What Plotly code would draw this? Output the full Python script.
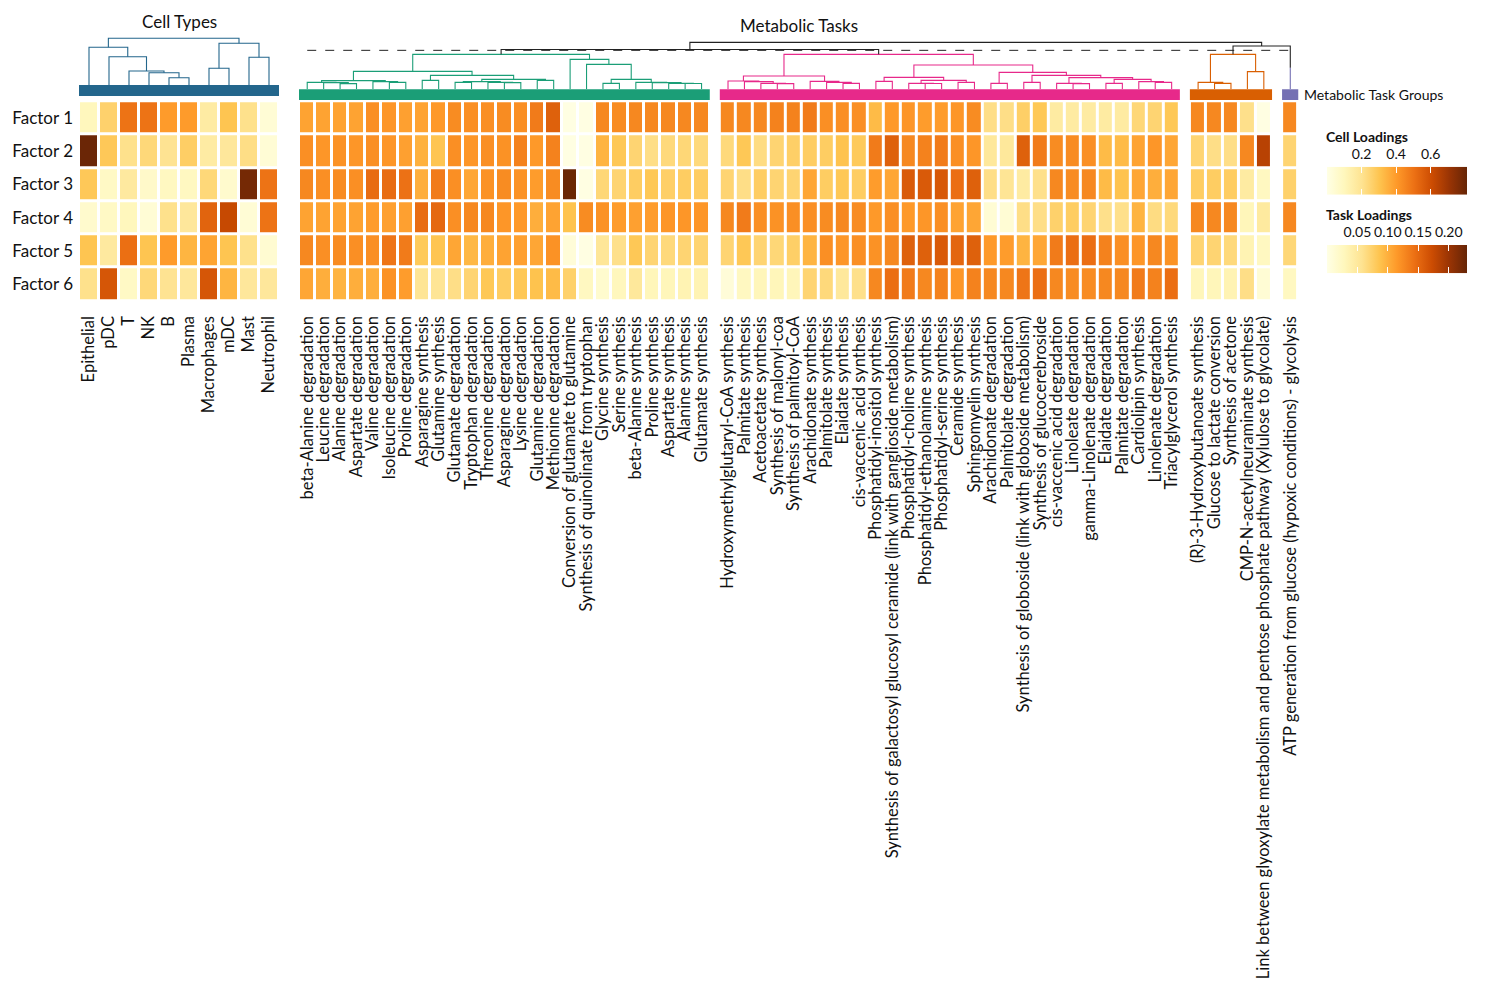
import numpy as np
import plotly.graph_objects as go
from plotly.colors import sequential

FONT = "Lato"
W, H = 1502, 990

# ---------------- data ----------------
factors = ["Factor 1", "Factor 2", "Factor 3", "Factor 4", "Factor 5", "Factor 6"]

cell_types = ["Epithelial", "pDC", "T", "NK", "B", "Plasma", "Macrophages", "mDC", "Mast", "Neutrophil"]
cell_loadings = [
    [0.10, 0.26, 0.50, 0.50, 0.40, 0.40, 0.16, 0.30, 0.21, 0.04],
    [0.80, 0.29, 0.21, 0.24, 0.20, 0.27, 0.16, 0.18, 0.22, 0.04],
    [0.29, 0.08, 0.17, 0.07, 0.09, 0.09, 0.24, 0.06, 0.78, 0.50],
    [0.06, 0.08, 0.10, 0.04, 0.21, 0.18, 0.54, 0.62, 0.04, 0.50],
    [0.30, 0.17, 0.51, 0.30, 0.40, 0.34, 0.38, 0.30, 0.21, 0.05],
    [0.21, 0.58, 0.08, 0.24, 0.20, 0.18, 0.58, 0.34, 0.18, 0.18],
]

tasks_green = [
    "beta-Alanine degradation", "Leucine degradation", "Alanine degradation", "Aspartate degradation",
    "Valine degradation", "Isoleucine degradation", "Proline degradation", "Asparagine synthesis",
    "Glutamine synthesis", "Glutamate degradation", "Tryptophan degradation", "Threonine degradation",
    "Asparagine degradation", "Lysine degradation", "Glutamine degradation", "Methionine degradation",
    "Conversion of glutamate to glutamine", "Synthesis of quinolinate from tryptophan", "Glycine synthesis",
    "Serine synthesis", "beta-Alanine synthesis", "Proline synthesis", "Aspartate synthesis",
    "Alanine synthesis", "Glutamate synthesis",
]
loadings_green = [
    [0.108, 0.108, 0.108, 0.108, 0.122, 0.117, 0.110, 0.108, 0.115, 0.124, 0.122, 0.122, 0.124, 0.122, 0.136, 0.156, 0.002, 0.002, 0.127, 0.124, 0.127, 0.127, 0.127, 0.127, 0.127],
    [0.122, 0.117, 0.120, 0.117, 0.122, 0.117, 0.110, 0.099, 0.085, 0.122, 0.117, 0.122, 0.120, 0.131, 0.115, 0.131, 0.002, 0.002, 0.097, 0.083, 0.071, 0.062, 0.067, 0.069, 0.067],
    [0.127, 0.122, 0.124, 0.122, 0.147, 0.147, 0.143, 0.101, 0.136, 0.122, 0.106, 0.120, 0.124, 0.120, 0.113, 0.124, 0.228, 0.002, 0.069, 0.071, 0.078, 0.083, 0.076, 0.078, 0.078],
    [0.108, 0.108, 0.108, 0.108, 0.113, 0.110, 0.110, 0.147, 0.150, 0.122, 0.127, 0.127, 0.117, 0.115, 0.101, 0.108, 0.087, 0.124, 0.120, 0.113, 0.110, 0.113, 0.117, 0.117, 0.117],
    [0.127, 0.122, 0.124, 0.122, 0.122, 0.140, 0.136, 0.081, 0.085, 0.106, 0.094, 0.101, 0.108, 0.110, 0.106, 0.120, 0.009, 0.002, 0.053, 0.060, 0.083, 0.071, 0.067, 0.071, 0.071],
    [0.106, 0.101, 0.097, 0.101, 0.101, 0.120, 0.113, 0.055, 0.055, 0.062, 0.071, 0.083, 0.078, 0.083, 0.087, 0.092, 0.074, 0.025, 0.016, 0.028, 0.051, 0.030, 0.030, 0.035, 0.035],
]

tasks_pink = [
    "Hydroxymethylglutaryl-CoA synthesis", "Palmitate synthesis", "Acetoacetate synthesis",
    "Synthesis of malonyl-coa", "Synthesis of palmitoyl-CoA", "Arachidonate synthesis",
    "Palmitolate synthesis", "Elaidate synthesis", "cis-vaccenic acid synthesis",
    "Phosphatidyl-inositol synthesis",
    "Synthesis of galactosyl glucosyl ceramide (link with ganglioside metabolism)",
    "Phosphatidyl-choline synthesis", "Phosphatidyl-ethanolamine synthesis", "Phosphatidyl-serine synthesis",
    "Ceramide synthesis", "Sphingomyelin synthesis", "Arachidonate degradation", "Palmitolate degradation",
    "Synthesis of globoside (link with globoside metabolism)", "Synthesis of glucocerebroside",
    "cis-vaccenic acid degradation", "Linoleate degradation", "gamma-Linolenate degradation",
    "Elaidate degradation", "Palmitate degradation", "Cardiolipin synthesis", "Linolenate degradation",
    "Triacylglycerol synthesis",
]
loadings_pink = [
    [0.127, 0.127, 0.127, 0.131, 0.131, 0.136, 0.122, 0.122, 0.122, 0.092, 0.115, 0.117, 0.113, 0.113, 0.117, 0.124, 0.062, 0.062, 0.076, 0.083, 0.046, 0.046, 0.046, 0.046, 0.046, 0.069, 0.071, 0.083],
    [0.067, 0.083, 0.064, 0.071, 0.076, 0.078, 0.078, 0.087, 0.081, 0.136, 0.156, 0.127, 0.131, 0.136, 0.122, 0.117, 0.051, 0.051, 0.156, 0.136, 0.124, 0.124, 0.122, 0.092, 0.092, 0.108, 0.117, 0.106],
    [0.071, 0.062, 0.078, 0.071, 0.071, 0.106, 0.078, 0.083, 0.078, 0.113, 0.106, 0.161, 0.161, 0.163, 0.145, 0.156, 0.062, 0.055, 0.046, 0.060, 0.127, 0.124, 0.127, 0.092, 0.087, 0.106, 0.101, 0.106],
    [0.127, 0.136, 0.122, 0.120, 0.122, 0.122, 0.124, 0.127, 0.124, 0.115, 0.122, 0.115, 0.117, 0.122, 0.108, 0.106, 0.012, 0.012, 0.062, 0.062, 0.074, 0.078, 0.071, 0.060, 0.060, 0.097, 0.064, 0.067],
    [0.071, 0.083, 0.071, 0.069, 0.076, 0.097, 0.122, 0.117, 0.122, 0.120, 0.127, 0.156, 0.156, 0.161, 0.152, 0.156, 0.115, 0.113, 0.097, 0.106, 0.136, 0.145, 0.145, 0.131, 0.122, 0.117, 0.127, 0.120],
    [0.009, 0.025, 0.030, 0.030, 0.030, 0.071, 0.067, 0.051, 0.060, 0.127, 0.145, 0.136, 0.127, 0.131, 0.117, 0.131, 0.127, 0.127, 0.140, 0.145, 0.127, 0.124, 0.124, 0.127, 0.127, 0.136, 0.131, 0.145],
]

tasks_orange = [
    "(R)-3-Hydroxybutanoate synthesis", "Glucose to lactate conversion", "Synthesis of acetone",
    "CMP-N-acetylneuraminate synthesis",
    "Link between glyoxylate metabolism and pentose phosphate pathway (Xylulose to glycolate)",
]
loadings_orange = [
    [0.127, 0.127, 0.127, 0.060, 0.002],
    [0.071, 0.062, 0.062, 0.127, 0.184],
    [0.078, 0.078, 0.078, 0.046, 0.025],
    [0.127, 0.127, 0.127, 0.030, 0.048],
    [0.071, 0.071, 0.067, 0.035, 0.025],
    [0.030, 0.030, 0.035, 0.062, 0.012],
]

tasks_purple = ["ATP generation from glucose (hypoxic conditions) - glycolysis"]
loadings_purple = [[0.127], [0.071], [0.074], [0.127], [0.069], [0.025]]

cell_color = "#23668C"
group_colors = ["#1B9E77", "#E7298A", "#D95F02", "#7570B3"]

# dendrogram merges (scipy-style ids: leaves 0..n-1, merge k -> id n+k), heights
cell_merges = [(4, 5, 7.3), (3, 10, 12.3), (2, 11, 14.0), (1, 12, 28.3), (0, 13, 37.7),
               (6, 7, 16.7), (8, 9, 27.7), (15, 16, 41.7), (14, 17, 46.7)]
green_merges = [(2, 3, 5.7), (1, 25, 6.7), (0, 26, 7.0), (5, 6, 7.0), (4, 28, 7.7), (27, 29, 8.7),
                (7, 8, 9.0), (9, 10, 7.0), (12, 13, 6.7), (11, 33, 7.0), (32, 34, 7.7), (14, 15, 9.0),
                (35, 36, 10.0), (31, 37, 14.0), (30, 38, 18.0), (18, 19, 6.0), (23, 24, 5.8),
                (22, 41, 6.0), (21, 42, 6.7), (20, 43, 7.0), (40, 44, 10.0), (17, 45, 25.0),
                (16, 46, 30.0), (39, 47, 35.0)]
pink_merges = [(3, 4, 5.7), (2, 28, 6.0), (1, 29, 7.7), (0, 30, 8.3), (7, 8, 6.0), (6, 32, 7.0),
               (5, 33, 8.0), (31, 34, 13.3), (9, 10, 8.0), (12, 13, 5.8), (11, 37, 6.0), (14, 15, 7.0),
               (38, 39, 9.0), (36, 40, 12.0), (16, 17, 6.0), (18, 19, 7.0), (21, 22, 5.7), (20, 44, 6.0),
               (23, 24, 6.0), (26, 27, 7.0), (25, 47, 7.7), (46, 48, 10.0), (45, 49, 11.7),
               (43, 50, 14.0), (42, 51, 17.0), (41, 52, 24.3), (35, 53, 35.0)]
orange_merges = [(1, 2, 6.0), (0, 5, 7.0), (3, 4, 17.7), (6, 7, 35.0)]
purple_leaf_height = 21.6
# slice-level tree: (green,pink) then (orange,purple) then all
slice_merge_heights = [39.8, 43.3, 47.0]
slice_cut_height = 39.0

# ---------------- helpers ----------------
def px_x(p):
    return p / W


def px_y(p):
    return 1 - p / H


def dendro_paths(leaf_x, merges):
    n = len(leaf_x)
    pos = {i: (leaf_x[i], 0.0) for i in range(n)}
    xs, ys = [], []
    for k, (a, b, h) in enumerate(merges):
        xa, ha = pos[a]
        xb, hb = pos[b]
        xs += [xa, xa, xb, xb, None]
        ys += [ha, h, h, hb, None]
        pos[n + k] = ((xa + xb) / 2, h)
    return xs, ys, pos[n + len(merges) - 1]


# layout geometry in px
CELL_X = (79, 279)
TASK_X = (299, 1298.5)
HEAT_Y = (101.2, 300.8)
CELL_BAR = (85, 96)
TASK_BAR = (89.33, 100)
GAP = 0.61  # gap between task groups, in column units

groups = [(tasks_green, loadings_green), (tasks_pink, loadings_pink),
          (tasks_orange, loadings_orange), (tasks_purple, loadings_purple)]
offsets = []
o = 0.0
for names, _ in groups:
    offsets.append(o)
    o += len(names) + GAP
task_range = [-0.5, offsets[-1] + len(tasks_purple) - 0.5]

fig = go.Figure()

# ---- heatmaps ----
fig.add_trace(go.Heatmap(z=cell_loadings, x=list(range(len(cell_types))), y=list(range(len(factors))),
                         coloraxis="coloraxis", xgap=3, ygap=3, xaxis="x", yaxis="y"))

task_ticks, task_text = [], []
for (names, vals), off in zip(groups, offsets):
    xs = [off + i for i in range(len(names))]
    task_ticks += xs
    task_text += names
    fig.add_trace(go.Heatmap(z=vals, x=xs, y=list(range(len(factors))), coloraxis="coloraxis2",
                             xgap=3, ygap=3, xaxis="x2", yaxis="y"))

# ---- dendrograms ----
lw = 1.1
cx, cy, _ = dendro_paths(list(range(len(cell_types))), cell_merges)
fig.add_trace(go.Scatter(x=cx, y=cy, mode="lines", line=dict(color=cell_color, width=lw),
                         xaxis="x3", yaxis="y3", hoverinfo="skip"))

roots = []
for (names, _), off, merges, col in zip(groups[:3], offsets[:3],
                                        [green_merges, pink_merges, orange_merges], group_colors[:3]):
    lx = [off + i for i in range(len(names))]
    dx, dy, root = dendro_paths(lx, merges)
    roots.append(root)
    fig.add_trace(go.Scatter(x=dx, y=dy, mode="lines", line=dict(color=col, width=lw),
                             xaxis="x4", yaxis="y4", hoverinfo="skip"))
purple_x = offsets[3]
fig.add_trace(go.Scatter(x=[purple_x, purple_x], y=[0, purple_leaf_height], mode="lines",
                         line=dict(color=group_colors[3], width=lw), xaxis="x4", yaxis="y4",
                         hoverinfo="skip"))
roots.append((purple_x, purple_leaf_height))

top_merges = [(0, 1, slice_merge_heights[0]), (2, 3, slice_merge_heights[1]),
              (4, 5, slice_merge_heights[2])]
pos = {i: r for i, r in enumerate(roots)}
tx, ty = [], []
for k, (a, b, h) in enumerate(top_merges):
    xa, ha = pos[a]
    xb, hb = pos[b]
    tx += [xa, xa, xb, xb, None]
    ty += [ha, h, h, hb, None]
    pos[4 + k] = ((xa + xb) / 2, h)
fig.add_trace(go.Scatter(x=tx, y=ty, mode="lines", line=dict(color="#222222", width=lw),
                         xaxis="x4", yaxis="y4", hoverinfo="skip"))
fig.add_trace(go.Scatter(x=[0, purple_x], y=[slice_cut_height, slice_cut_height], mode="lines",
                         line=dict(color="#222222", width=1, dash="dash"),
                         xaxis="x4", yaxis="y4", hoverinfo="skip"))

# ---- legend ramps ----
ylorbr = sequential.YlOrBr
cs = [[i / (len(ylorbr) - 1), c] for i, c in enumerate(ylorbr)]
CELL_MAX, TASK_MAX = 0.81, 0.23
for xa, ya, vmax in [("x5", "y5", CELL_MAX), ("x6", "y6", TASK_MAX)]:
    fig.add_trace(go.Scatter(x=[0, vmax, vmax, 0, 0], y=[0, 0, 1, 1, 0], mode="lines",
                             line=dict(width=0), fill="toself",
                             fillgradient=dict(type="horizontal", colorscale=cs),
                             xaxis=xa, yaxis=ya, hoverinfo="skip"))

# ---------------- layout ----------------
tickfont = dict(family=FONT, size=16.5, color="#111111")
heat_ydom = [px_y(HEAT_Y[1]), px_y(HEAT_Y[0])]
noaxis = dict(visible=False, showgrid=False, zeroline=False, automargin=False)

fig.update_layout(
    width=W, height=H, margin=dict(l=0, r=0, t=0, b=0),
    paper_bgcolor="white", plot_bgcolor="white", showlegend=False,
    font=dict(family=FONT, color="#111111"),
    coloraxis=dict(colorscale=cs, cmin=0, cmax=CELL_MAX, showscale=False),
    coloraxis2=dict(colorscale=cs, cmin=0, cmax=TASK_MAX, showscale=False),
    xaxis=dict(domain=[px_x(CELL_X[0]), px_x(CELL_X[1])], range=[-0.5, len(cell_types) - 0.5],
               tickvals=list(range(len(cell_types))), ticktext=cell_types, tickangle=-90,
               tickfont=tickfont, ticks="", showgrid=False, zeroline=False, showline=False,
               automargin=False, anchor="y", ticklabelstandoff=11),
    yaxis=dict(domain=heat_ydom, range=[len(factors) - 0.5, -0.5],
               tickvals=list(range(len(factors))), ticktext=factors,
               tickfont=dict(family=FONT, size=17, color="#111111"), ticks="", showgrid=False,
               zeroline=False, showline=False, automargin=False, anchor="x", ticklabelstandoff=5),
    xaxis2=dict(domain=[px_x(TASK_X[0]), px_x(TASK_X[1])], range=task_range,
                tickvals=task_ticks, ticktext=task_text, tickangle=-90, tickfont=tickfont,
                ticks="", showgrid=False, zeroline=False, showline=False, automargin=False,
                anchor="y", ticklabelstandoff=11),
    xaxis3=dict(domain=[px_x(CELL_X[0]), px_x(CELL_X[1])], range=[-0.5, len(cell_types) - 0.5],
                matches="x", anchor="y3", **noaxis),
    yaxis3=dict(domain=[px_y(CELL_BAR[0]), px_y(CELL_BAR[0] - 48)], range=[0, 48], anchor="x3", **noaxis),
    xaxis4=dict(domain=[px_x(TASK_X[0]), px_x(TASK_X[1])], range=task_range,
                matches="x2", anchor="y4", **noaxis),
    yaxis4=dict(domain=[px_y(TASK_BAR[0]), px_y(TASK_BAR[0] - 50)], range=[0, 50], anchor="x4", **noaxis),
    xaxis5=dict(domain=[px_x(1327), px_x(1467)], range=[0, CELL_MAX], side="top",
                tickvals=[0.2, 0.4, 0.6], ticktext=["0.2", "0.4", "0.6"],
                ticks="inside", ticklen=6, tickwidth=1, tickcolor="white", mirror="ticks",
                tickfont=dict(family=FONT, size=14, color="#111111"), showgrid=False,
                zeroline=False, showline=False, automargin=False, anchor="y5", ticklabelstandoff=4),
    yaxis5=dict(domain=[px_y(194.7), px_y(166.7)], range=[0, 1], anchor="x5", **noaxis),
    xaxis6=dict(domain=[px_x(1327), px_x(1467)], range=[0, TASK_MAX], side="top",
                tickvals=[0.05, 0.10, 0.15, 0.20], ticktext=["0.05", "0.10", "0.15", "0.20"],
                ticks="inside", ticklen=6, tickwidth=1, tickcolor="white", mirror="ticks",
                tickfont=dict(family=FONT, size=14, color="#111111"), showgrid=False,
                zeroline=False, showline=False, automargin=False, anchor="y6", ticklabelstandoff=4),
    yaxis6=dict(domain=[px_y(273.3), px_y(245)], range=[0, 1], anchor="x6", **noaxis),
)

# annotation bars
shapes = [dict(type="rect", xref="x", yref="paper", x0=-0.5, x1=len(cell_types) - 0.5,
               y0=px_y(CELL_BAR[1]), y1=px_y(CELL_BAR[0]), fillcolor=cell_color, line=dict(width=0))]
for (names, _), off, col in zip(groups, offsets, group_colors):
    shapes.append(dict(type="rect", xref="x2", yref="paper", x0=off - 0.5, x1=off + len(names) - 0.5,
                       y0=px_y(TASK_BAR[1]), y1=px_y(TASK_BAR[0]), fillcolor=col, line=dict(width=0)))
fig.update_layout(shapes=shapes)

annotations = [
    dict(text="Cell Types", xref="x domain", yref="paper", x=0.5, y=px_y(21.5), showarrow=False,
         font=dict(family=FONT, size=17, color="#111111"), xanchor="center", yanchor="middle"),
    dict(text="Metabolic Tasks", xref="x2 domain", yref="paper", x=0.5, y=px_y(25.5), showarrow=False,
         font=dict(family=FONT, size=17, color="#111111"), xanchor="center", yanchor="middle"),
    dict(text="Metabolic Task Groups", xref="paper", yref="paper", x=px_x(1302), y=px_y(94.5),
         showarrow=False, font=dict(family=FONT, size=14, color="#111111"), xanchor="left",
         yanchor="middle"),
    dict(text="<b>Cell Loadings</b>", xref="paper", yref="paper", x=px_x(1324), y=px_y(136.5),
         showarrow=False, font=dict(family=FONT, size=14, color="#111111"), xanchor="left",
         yanchor="middle"),
    dict(text="<b>Task Loadings</b>", xref="paper", yref="paper", x=px_x(1324), y=px_y(214),
         showarrow=False, font=dict(family=FONT, size=14, color="#111111"), xanchor="left",
         yanchor="middle"),
]
fig.update_layout(annotations=annotations)

fig.write_html("out.html")
